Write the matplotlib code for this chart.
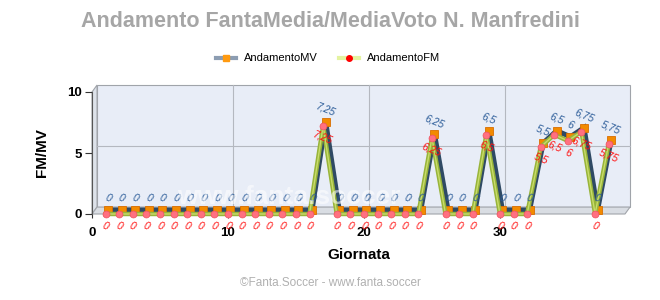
import matplotlib
matplotlib.use("Agg")
import matplotlib.pyplot as plt
from matplotlib.lines import Line2D
from matplotlib.patches import Polygon
from matplotlib.transforms import ScaledTranslation

plt.rcParams["font.family"] = ["Liberation Sans", "DejaVu Sans"]

# ── data ──────────────────────────────────────────────
giornate = list(range(1, 39))
media_voto = [0] * 16 + [7.25] + [0] * 7 + [6.25] + [0] * 3 + [6.5] + [0] * 3 + \
             [5.5, 6.5, 6, 6.75, 0, 5.75]
fanta_media = [0] * 16 + [7.25] + [0] * 7 + [6.25] + [0] * 3 + [6.5] + [0] * 3 + \
              [5.5, 6.5, 6, 6.75, 0, 5.75]
x_ticks = [0, 10, 20, 30]
y_ticks = [0, 5, 10]

XMAX, YMAX = 39.2, 10
DX, DY = 0.37, 0.57          # depth of the fake 3D box, data units

fig = plt.figure(figsize=(6.6, 3.0), dpi=100)
ax = fig.add_axes([92 / 660, 86 / 300, 533 / 660, 122 / 300])
ax.set_xlim(0, XMAX)
ax.set_ylim(0, YMAX)
ax.patch.set_visible(False)
for s in ("top", "right", "bottom"):
    ax.spines[s].set_visible(False)
ax.spines["left"].set_color("#555555")
ax.spines["left"].set_linewidth(0.8)

# back wall, left wall and floor
wall = dict(clip_on=False, lw=0.8, ec="#a0a4aa")
ax.add_patch(Polygon([(DX, DY), (XMAX + DX, DY), (XMAX + DX, YMAX + DY), (DX, YMAX + DY)],
                     fc="#e8edf7", zorder=0, **wall))
ax.add_patch(Polygon([(0, 0), (DX, DY), (DX, YMAX + DY), (0, YMAX)],
                     fc="#dde2ea", zorder=0.5, **wall))
ax.add_patch(Polygon([(0, 0), (XMAX, 0), (XMAX + DX, DY), (DX, DY)],
                     fc="#d9dde3", zorder=0.5, **wall))
for xv in x_ticks[1:]:
    ax.plot([xv + DX, xv + DX], [DY, YMAX + DY], color="#b4b8c0", lw=0.8, zorder=0.6, clip_on=False)
for yv in y_ticks[1:-1]:
    ax.plot([DX, XMAX + DX], [yv + DY, yv + DY], color="#b4b8c0", lw=0.8, zorder=0.6, clip_on=False)

# series (MV drawn a bit deeper)
mv_tr = ax.transData + ScaledTranslation(2.5 / 100, 4 / 100, fig.dpi_scale_trans)
ax.plot(giornate, media_voto, color="#2f4a64", lw=3.6, transform=mv_tr, zorder=2,
        solid_joinstyle="miter", clip_on=False)
ax.plot(giornate, media_voto, ls="none", marker="s", ms=5.5, mfc="#f28a00", mec="#d86e00",
        mew=0.6, transform=mv_tr, zorder=3, clip_on=False)
ax.plot(giornate, fanta_media, color="#98b43a", lw=3.2, zorder=4, clip_on=False)
ax.plot(giornate, fanta_media, color="#c8dc6a", lw=1.0, zorder=4.1, clip_on=False)
ax.plot(giornate, fanta_media, ls="none", marker="o", ms=5, mfc="#ff7080", mec="#f05060",
        mew=0.5, zorder=5, clip_on=False)

def fmt(v):
    return f"{v:g}".replace(".", ",")

for g, v in zip(giornate, media_voto):
    ax.annotate(fmt(v), (g, v), xycoords=mv_tr, xytext=(0, 12), textcoords="offset pixels",
                ha="center", va="center", fontsize=7.5, style="italic", rotation=-22,
                color="#2a5b98", zorder=6, annotation_clip=False)
for g, v in zip(giornate, fanta_media):
    ax.annotate(fmt(v), (g, v), xytext=(0, -12), textcoords="offset pixels",
                ha="center", va="center", fontsize=7.5, style="italic", rotation=-22,
                color="#ff1010", zorder=6, annotation_clip=False)

# ticks & labels
ax.set_xticks(x_ticks)
ax.set_yticks(y_ticks)
ax.tick_params(axis="x", length=3, pad=6, labelsize=9.5, colors="#333333")
ax.tick_params(axis="y", length=5, pad=2, labelsize=9.5, colors="#333333")
for lab in ax.get_xticklabels() + ax.get_yticklabels():
    lab.set_fontweight("bold")
    lab.set_color("black")
ax.set_xlabel("Giornata", fontsize=11, fontweight="bold", labelpad=7)
ax.set_ylabel("FM/MV", fontsize=11, fontweight="bold", labelpad=13)

fig.text(0.5, 0.927, "Andamento FantaMedia/MediaVoto N. Manfredini", ha="center", va="center",
         fontsize=15.5, fontweight="bold", color="#a6a6a6")
fig.text(0.5, 0.057, "\u00a9Fanta.Soccer - www.fanta.soccer", ha="center", va="center",
         fontsize=8.5, color="#b0b0b0")
fig.text(289 / 660, 1 - 197 / 300, "www.fanta.soccer", ha="center", va="center",
         fontsize=19, fontweight="bold", color="white", alpha=0.55, zorder=10)

handles = [
    Line2D([], [], color="#8c9db2", lw=3, marker="s", ms=4, mfc="#ff9a10", mec="#ff9a10"),
    Line2D([], [], color="#e4f3a0", lw=3, marker="o", ms=4, mfc="#ff0000", mec="#ff0000"),
]
fig.legend(handles, ["AndamentoMV", "AndamentoFM"], loc="center", bbox_to_anchor=(0.497, 0.805),
           ncol=2, frameon=False, fontsize=8, handlelength=1.8, columnspacing=1.9,
           handletextpad=0.7)

fig.savefig("out.png", dpi=100)
